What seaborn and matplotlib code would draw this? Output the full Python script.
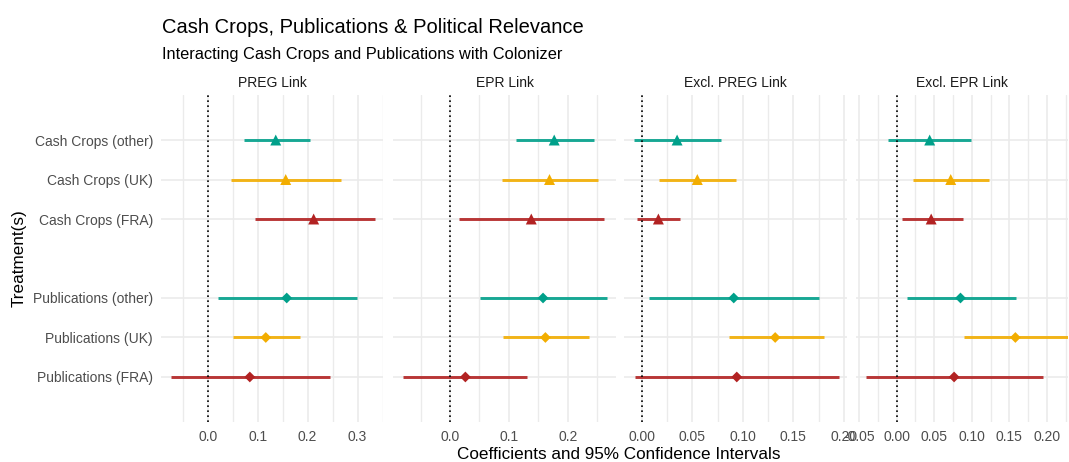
import numpy as np
import pandas as pd
import matplotlib
matplotlib.use("Agg")
import matplotlib.pyplot as plt
import seaborn as sns
from matplotlib.ticker import MultipleLocator, FormatStrFormatter

# data
treatments = ["Cash Crops (other)", "Cash Crops (UK)", "Cash Crops (FRA)",
              "Publications (other)", "Publications (UK)", "Publications (FRA)"]
kinds = ["Cash Crops"] * 3 + ["Publications"] * 3
colonizers = ["other", "UK", "FRA"] * 2
panels = ["PREG Link", "EPR Link", "Excl. PREG Link", "Excl. EPR Link"]

preg_est = [0.136, 0.156, 0.212, 0.158, 0.116, 0.084]
preg_lo = [0.072, 0.047, 0.094, 0.021, 0.051, -0.074]
preg_hi = [0.205, 0.267, 0.335, 0.298, 0.184, 0.245]

epr_est = [0.177, 0.169, 0.138, 0.158, 0.162, 0.026]
epr_lo = [0.112, 0.089, 0.016, 0.051, 0.090, -0.080]
epr_hi = [0.244, 0.251, 0.261, 0.266, 0.236, 0.131]

exclpreg_est = [0.035, 0.055, 0.0165, 0.091, 0.132, 0.094]
exclpreg_lo = [-0.0073, 0.0175, -0.0044, 0.0076, 0.086, -0.0066]
exclpreg_hi = [0.078, 0.093, 0.038, 0.175, 0.180, 0.195]

exclepr_est = [0.044, 0.072, 0.046, 0.085, 0.158, 0.0765]
exclepr_lo = [-0.011, 0.022, 0.0066, 0.014, 0.090, -0.041]
exclepr_hi = [0.0996, 0.123, 0.088, 0.159, 0.235, 0.195]

# rows: cash crops on top, one empty slot, publications below
row_order = ["Cash Crops (other)", "Cash Crops (UK)", "Cash Crops (FRA)", "",
             "Publications (other)", "Publications (UK)", "Publications (FRA)"]

frames = []
for name, est, lo, hi in zip(panels,
                             [preg_est, epr_est, exclpreg_est, exclepr_est],
                             [preg_lo, epr_lo, exclpreg_lo, exclepr_lo],
                             [preg_hi, epr_hi, exclpreg_hi, exclepr_hi]):
    frames.append(pd.DataFrame({"panel": name, "treatment": treatments, "kind": kinds,
                                "colonizer": colonizers, "est": est, "lo": lo, "hi": hi}))
df = pd.concat(frames, ignore_index=True)
df["ypos"] = df["treatment"].map({t: len(row_order) - i for i, t in enumerate(row_order)})

palette = {"other": "#00A08A", "UK": "#F2AD00", "FRA": "#B22222"}
marker_map = {"Cash Crops": "^", "Publications": "D"}
size_map = {"Cash Crops": 62, "Publications": 30}

sns.set_theme(style="white")
plt.rcParams["font.family"] = ["Liberation Sans", "DejaVu Sans"]

W, H = 1069, 462
fig = plt.figure(figsize=(W / 100, H / 100), dpi=100)

# panel boxes in pixels (left, right), shared top/bottom
boxes = [(161, 383), (393, 616), (624, 847), (856, 1068)]
top, bottom = 95, 422
xlims = [(-0.094, 0.351), (-0.097, 0.282), (-0.0175, 0.203), (-0.054, 0.228)]
majors = [0.1, 0.1, 0.05, 0.05]
fmts = ["%.1f", "%.1f", "%.2f", "%.2f"]

grid_c = "#EBEBEB"
for i, (name, (l, r)) in enumerate(zip(panels, boxes)):
    ax = fig.add_axes([l / W, (H - bottom) / H, (r - l) / W, (bottom - top) / H])
    sub = df[df["panel"] == name]
    for _, row in sub.iterrows():
        ax.hlines(row["ypos"], row["lo"], row["hi"], color=palette[row["colonizer"]],
                  linewidth=2.1, alpha=0.9, zorder=2)
    sns.scatterplot(data=sub, x="est", y="ypos", hue="colonizer", style="kind",
                    size="kind", sizes=size_map, markers=marker_map, palette=palette,
                    linewidth=0, legend=False, ax=ax, zorder=3)
    ax.axvline(0, color="black", linestyle=(0, (1, 2)), linewidth=1.2, zorder=2.5)

    ax.set_xlim(*xlims[i])
    ax.set_ylim(-0.14, len(row_order) + 1.14)
    ax.xaxis.set_major_locator(MultipleLocator(majors[i]))
    ax.xaxis.set_minor_locator(MultipleLocator(majors[i] / 2))
    ax.xaxis.set_major_formatter(FormatStrFormatter(fmts[i]))
    labelled = [t for t in row_order if t]
    ax.set_yticks([len(row_order) - row_order.index(t) for t in labelled])
    if i == 0:
        ax.set_yticklabels(labelled)
    else:
        ax.set_yticklabels([])
    ax.grid(which="major", axis="both", color=grid_c, linewidth=1.2, zorder=0)
    ax.grid(which="minor", axis="x", color=grid_c, linewidth=1.0, zorder=0)
    ax.set_axisbelow(True)
    for s in ax.spines.values():
        s.set_visible(False)
    ax.tick_params(which="both", length=0, labelsize=10, labelcolor="#4D4D4D", pad=5.8)
    ax.set_xlabel("")
    ax.set_ylabel("")
    ax.set_title(name, fontsize=10, color="#1A1A1A", pad=5.8)

fig.text(162 / W, 1 - 33 / H, "Cash Crops, Publications & Political Relevance",
         fontsize=14.5, color="black", va="baseline", ha="left")
fig.text(162 / W, 1 - 58.5 / H, "Interacting Cash Crops and Publications with Colonizer",
         fontsize=11.8, color="black", va="baseline", ha="left")
fig.text(619 / W, 1 - 459 / H, "Coefficients and 95% Confidence Intervals",
         fontsize=12.3, color="black", va="baseline", ha="center")
fig.text(19 / W, 1 - 258 / H, "Treatment(s)", fontsize=12.3, color="black",
         rotation=90, va="center", ha="center")

fig.savefig("out.png", dpi=100, facecolor="white")
